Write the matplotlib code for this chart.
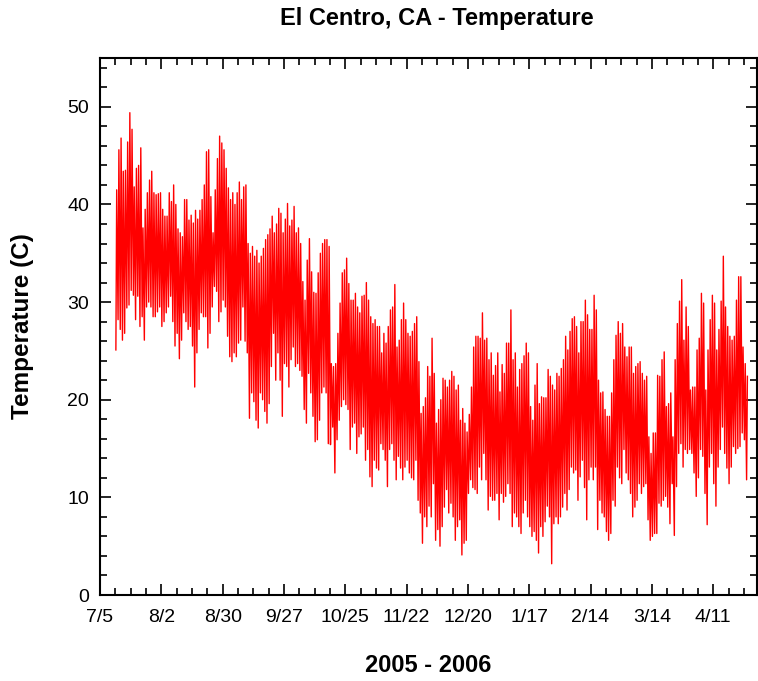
import numpy as np
import pandas as pd
import matplotlib
matplotlib.use('Agg')
import matplotlib.pyplot as plt

plt.rcParams['font.family'] = ['Liberation Sans', 'DejaVu Sans']

# daily max / min temperature (C), one value per day starting 7/12/2005
first_day = '2005-07-12'
daily_high = [
    41.5, 45.6, 46.8, 43.4, 43.5, 46.4, 49.4, 47.7, 41.8, 43.7,
    44.0, 45.8, 37.6, 39.5, 41.2, 42.5, 43.4, 41.2, 41.0, 41.1,
    41.2, 39.5, 38.8, 38.8, 41.2, 40.3, 42.0, 40.0, 37.5, 37.1,
    36.7, 40.5, 40.5, 38.4, 38.9, 38.1, 39.4, 38.5, 39.4, 40.5,
    42.0, 45.4, 45.6, 40.8, 37.1, 41.5, 44.7, 47.0, 46.3, 45.6,
    43.7, 41.7, 40.5, 41.2, 40.0, 41.2, 42.3, 40.5, 41.8, 42.0,
    36.0, 35.0, 35.7, 34.7, 35.3, 34.0, 34.7, 35.5, 36.4, 36.9,
    37.5, 38.8, 37.1, 38.0, 39.6, 39.1, 37.1, 38.5, 40.1, 37.8,
    38.4, 39.8, 37.1, 37.6, 36.0, 32.1, 30.2, 34.3, 36.5, 33.1,
    31.0, 30.9, 33.0, 35.0, 36.0, 36.4, 36.4, 35.7, 23.7, 23.4,
    23.7, 26.8, 29.9, 33.0, 33.3, 34.5, 31.9, 30.2, 30.2, 30.9,
    29.5, 28.9, 30.6, 30.7, 32.0, 30.2, 28.5, 27.8, 28.2, 27.5,
    27.5, 24.8, 26.8, 25.8, 27.5, 29.2, 29.5, 31.8, 25.4, 26.1,
    28.2, 29.9, 28.2, 26.8, 26.5, 27.0, 27.8, 28.5, 23.9, 18.6,
    19.3, 20.2, 23.4, 22.4, 26.3, 22.7, 17.6, 19.0, 20.0, 22.2,
    22.0, 21.3, 22.0, 22.9, 22.4, 21.0, 21.5, 17.9, 19.1, 17.6,
    16.7, 18.5, 21.3, 25.4, 26.5, 26.5, 26.3, 28.9, 26.1, 26.3,
    24.1, 24.8, 22.5, 23.5, 24.8, 20.8, 23.6, 22.7, 25.8, 25.8,
    29.2, 24.1, 24.8, 21.3, 23.1, 23.7, 24.5, 25.8, 24.8, 19.3,
    17.9, 21.5, 23.7, 19.6, 20.3, 20.2, 20.2, 23.1, 22.4, 21.5,
    21.0, 22.7, 22.4, 23.2, 24.1, 26.5, 25.1, 27.0, 28.3, 28.5,
    27.5, 24.8, 28.0, 28.0, 30.2, 28.7, 27.2, 27.2, 30.7, 29.2,
    22.0, 20.7, 20.8, 19.0, 18.3, 18.3, 20.7, 24.1, 26.6, 28.0,
    26.8, 27.8, 25.4, 24.4, 25.4, 25.4, 22.7, 23.4, 23.7, 23.9,
    22.7, 22.0, 22.4, 16.2, 14.5, 16.6, 16.6, 22.5, 22.4, 24.1,
    24.9, 19.3, 19.6, 20.7, 16.2, 24.1, 27.8, 30.1, 32.3, 26.1,
    29.5, 27.5, 21.0, 21.3, 21.3, 25.1, 26.3, 30.9, 29.9, 21.0,
    25.1, 28.2, 30.7, 29.9, 25.1, 27.2, 30.1, 34.7, 29.5, 27.5,
    26.5, 26.1, 26.5, 30.2, 32.6, 32.6, 25.4, 23.7, 22.4,
]
daily_low = [
    25.1, 28.2, 27.2, 26.1, 26.8, 29.4, 29.7, 31.2, 30.7, 28.2,
    30.6, 27.5, 28.5, 26.1, 29.5, 30.0, 29.5, 28.5, 28.5, 29.0,
    29.5, 27.5, 28.0, 28.9, 29.5, 30.6, 28.0, 25.5, 26.8, 24.2,
    26.1, 28.9, 28.0, 27.2, 27.5, 25.5, 21.3, 24.8, 27.2, 28.9,
    28.5, 28.5, 25.3, 26.8, 29.5, 31.6, 31.1, 28.0, 29.0, 30.2,
    29.5, 26.5, 24.4, 23.9, 24.8, 24.4, 25.8, 26.1, 29.5, 26.0,
    24.8, 18.1, 20.7, 19.8, 17.9, 17.1, 20.7, 20.0, 18.8, 17.6,
    19.6, 23.4, 26.8, 22.0, 24.8, 22.0, 18.3, 23.7, 23.4, 21.3,
    24.1, 25.4, 23.4, 23.7, 23.0, 22.4, 19.0, 17.6, 22.7, 20.7,
    18.3, 15.7, 15.9, 17.9, 20.7, 21.3, 20.7, 15.5, 15.4, 17.2,
    12.5, 15.9, 17.9, 19.3, 20.0, 19.5, 19.0, 14.9, 17.2, 17.6,
    14.5, 16.2, 16.5, 17.2, 13.8, 14.9, 12.1, 11.1, 13.8, 13.0,
    12.8, 15.5, 14.9, 13.8, 11.1, 14.9, 15.5, 13.8, 11.8, 14.2,
    13.0, 11.8, 13.1, 13.8, 12.5, 12.0, 11.8, 13.8, 9.7, 8.4,
    5.3, 8.0, 7.0, 9.1, 8.0, 11.4, 5.6, 6.7, 5.0, 7.0,
    9.0, 10.8, 8.4, 9.4, 8.0, 5.6, 7.0, 7.7, 4.1, 5.3,
    5.6, 10.4, 11.8, 11.0, 10.8, 10.4, 13.1, 11.8, 14.5, 11.8,
    8.7, 10.1, 9.7, 9.7, 10.4, 7.7, 10.4, 9.5, 10.1, 11.4,
    10.4, 7.0, 8.4, 8.0, 7.0, 6.3, 8.4, 9.7, 8.0, 7.0,
    6.0, 6.5, 5.6, 4.3, 7.0, 6.0, 7.5, 9.1, 8.0, 3.2,
    7.3, 8.0, 7.3, 8.0, 9.0, 10.4, 8.7, 10.8, 13.1, 12.5,
    12.8, 9.7, 12.1, 13.8, 11.0, 7.7, 11.8, 13.1, 11.8, 13.1,
    6.7, 9.7, 8.4, 8.0, 6.5, 5.6, 6.3, 9.7, 9.1, 13.1,
    12.0, 11.4, 14.9, 12.5, 11.8, 10.4, 8.0, 9.0, 9.7, 11.4,
    10.4, 11.1, 11.4, 7.7, 5.6, 6.0, 6.3, 6.3, 9.4, 9.1,
    9.7, 10.1, 9.0, 7.3, 11.4, 6.1, 11.1, 14.5, 15.5, 13.1,
    14.9, 14.5, 14.9, 14.5, 12.5, 10.1, 12.0, 14.9, 14.2, 10.4,
    7.2, 13.1, 14.5, 11.4, 9.1, 13.1, 14.9, 17.2, 14.5, 13.0,
    11.4, 13.1, 15.2, 14.5, 15.0, 15.2, 16.6, 15.9, 11.8,
]

# tick dates: every 4 weeks from 7/5, minor every week
major_dates = pd.date_range('2005-07-05', '2006-04-11', freq='28D')
minor_dates = pd.date_range('2005-07-05', '2006-05-01', freq='7D')
tick_labels = [f'{d.month}/{d.day}' for d in major_dates]

# build the daily cycle: low in the early morning, high mid-afternoon
days = pd.date_range(first_day, periods=len(daily_high), freq='D')
n = len(days)
times = np.empty(2 * n, dtype='datetime64[ns]')
times[0::2] = (days + pd.Timedelta(hours=6)).values
times[1::2] = (days + pd.Timedelta(hours=15)).values
temps = np.empty(2 * n)
temps[0::2] = daily_low
temps[1::2] = daily_high

fig = plt.figure(figsize=(7.58, 6.81), dpi=100)
ax = fig.add_axes([100 / 758, 86 / 681, 657 / 758, 537 / 681])

ax.plot(times, temps, color='red', lw=1.0)

ax.set_xlim(pd.Timestamp('2005-07-05'), pd.Timestamp('2006-05-01'))
ax.set_ylim(0, 55)
ax.set_xticks(major_dates)
ax.set_xticklabels(tick_labels)
ax.set_xticks(minor_dates, minor=True)
ax.set_yticks(range(0, 51, 10))
ax.set_yticks(np.arange(0, 55, 2), minor=True)

ax.tick_params(which='both', direction='in', top=True, right=True,
               width=1.2, labelsize=14, colors='black')
ax.tick_params(which='major', length=8)
ax.tick_params(which='minor', length=4.8)
ax.tick_params(axis='x', pad=10)
ax.tick_params(axis='y', pad=8)
for s in ax.spines.values():
    s.set_linewidth(1.5)

ax.set_xlabel('2005 - 2006', fontsize=17, fontweight='bold')
ax.xaxis.label.set_va('center')
ax.xaxis.set_label_coords(0.5, -(666 - 595) / 537)
ax.set_ylabel('Temperature (C)', fontsize=17.5, fontweight='bold')
ax.yaxis.label.set_va('center')
ax.yaxis.set_label_coords(-(100 - 23) / 657, 0.5)

fig.text(437 / 758, 1 - 18 / 681, 'El Centro, CA - Temperature',
         fontsize=17, fontweight='bold', ha='center', va='center')

fig.savefig('out.png', dpi=100)
